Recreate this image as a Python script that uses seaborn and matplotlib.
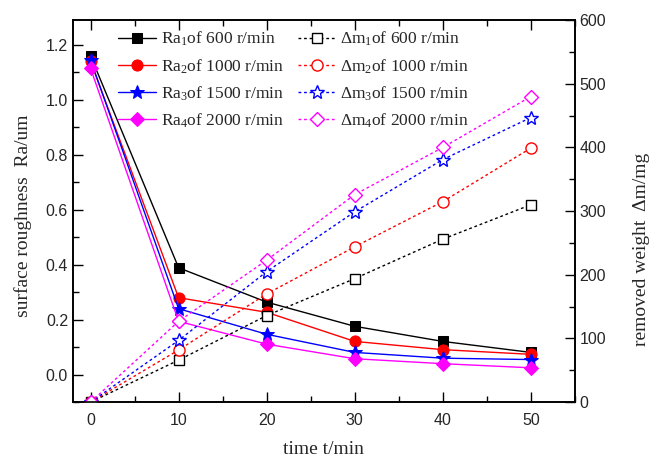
import numpy as np
import pandas as pd
import matplotlib
matplotlib.use('Agg')
from matplotlib import pyplot as plt
from matplotlib.ticker import MultipleLocator
import seaborn as sns

sns.set_style('white')
plt.rcParams['font.family'] = ['Liberation Serif', 'DejaVu Sans']
plt.rcParams['mathtext.fontset'] = 'custom'
plt.rcParams['mathtext.rm'] = 'Liberation Serif'
plt.rcParams['mathtext.it'] = 'Liberation Serif:italic'

time = [0, 10, 20, 30, 40, 50]
speeds = ['600', '1000', '1500', '2000']

ra_600 = [1.16, 0.389, 0.264, 0.176, 0.121, 0.081]
ra_1000 = [1.14, 0.280, 0.227, 0.121, 0.091, 0.074]
ra_1500 = [1.145, 0.240, 0.147, 0.081, 0.060, 0.055]
ra_2000 = [1.115, 0.194, 0.111, 0.058, 0.040, 0.025]

dm_600 = [0, 66, 136, 194, 256, 310]
dm_1000 = [0, 82, 170, 244, 315, 399]
dm_1500 = [0, 97, 205, 299, 381, 447]
dm_2000 = [0, 127, 223, 326, 400, 480]

colors = ['black', 'red', 'blue', 'magenta']
markers = ['s', 'o', '*', 'D']
msizes = [7, 8, 10, 7]

fig = plt.figure(figsize=(6.57, 4.57), dpi=100)
ax = fig.add_axes([0.111, 0.120, 0.764, 0.836])
ax2 = ax.twinx()

ra_all = [ra_600, ra_1000, ra_1500, ra_2000]
dm_all = [dm_600, dm_1000, dm_1500, dm_2000]

for i in range(4):
    sns.lineplot(x=time, y=ra_all[i], ax=ax, color=colors[i], marker=markers[i],
                 markersize=msizes[i], markeredgecolor=colors[i], linewidth=1,
                 label='Ra$_{%d}$of %s r/min' % (i + 1, speeds[i]))
    sns.lineplot(x=time, y=dm_all[i], ax=ax2, color=colors[i], marker=markers[i],
                 markersize=msizes[i], markerfacecolor='white',
                 markeredgecolor=colors[i], markeredgewidth=1, linewidth=1,
                 linestyle=(0, (2, 2)),
                 label='Δm$_{%d}$of %s r/min' % (i + 1, speeds[i]))

ax.set_xlim(-2, 55)
ax.set_ylim(-0.1, 1.29)
ax2.set_ylim(0, 600)

ax.xaxis.set_major_locator(MultipleLocator(10))
ax.xaxis.set_minor_locator(MultipleLocator(5))
ax.yaxis.set_major_locator(MultipleLocator(0.2))
ax.yaxis.set_minor_locator(MultipleLocator(0.1))
ax2.yaxis.set_major_locator(MultipleLocator(100))
ax2.yaxis.set_minor_locator(MultipleLocator(50))
ax.yaxis.set_major_formatter(plt.FormatStrFormatter('%.1f'))

ax.tick_params(which='both', direction='in', top=True, right=False, left=True, bottom=True,
               labelsize=11.5, color='black', width=1)
ax.tick_params(axis='x', which='major', pad=8)
ax.tick_params(which='major', length=7)
ax.tick_params(which='minor', length=4)
ax2.tick_params(which='both', direction='in', right=True, left=False,
                labelsize=11.5, color='black', width=1)
ax2.tick_params(which='major', length=7)
ax2.tick_params(which='minor', length=4)

for a in (ax, ax2):
    for s in a.spines.values():
        s.set_color('black')
        s.set_linewidth(1.2)

ax.set_xlabel('time t/min', fontsize=14, labelpad=9)
ax.set_ylabel('surface roughness  Ra/um', fontsize=14)
ax2.set_ylabel('removed weight  Δm/mg', fontsize=14)
ax.yaxis.set_label_coords(-0.082, 0.487)
ax2.yaxis.set_label_coords(1.115, 0.40)

fig.canvas.draw()
for lab in ax.get_xticklabels() + ax.get_yticklabels() + ax2.get_yticklabels():
    lab.set_fontfamily('Liberation Sans')

h1, l1 = ax.get_legend_handles_labels()
h2, l2 = ax2.get_legend_handles_labels()
ax.get_legend().remove()
ax2.get_legend().remove()
ax2.legend(h1 + h2, l1 + l2, ncol=2, loc='upper left', bbox_to_anchor=(0.09, 0.974),
           frameon=False, fontsize=12.5, handlelength=2.2, labelspacing=0.5,
           columnspacing=0.8, handletextpad=0.25, borderpad=0, borderaxespad=0)

fig.savefig('out.png', dpi=100)
